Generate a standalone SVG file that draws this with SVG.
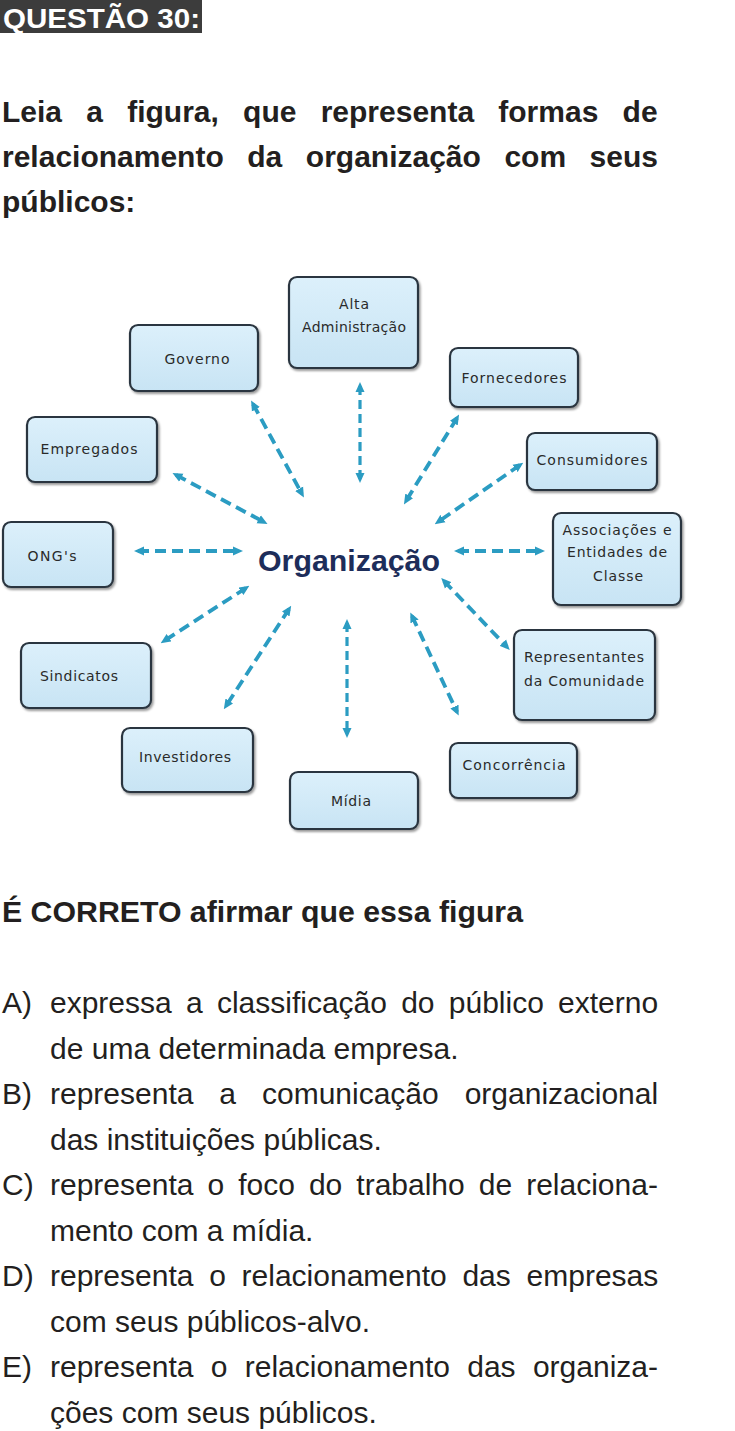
<svg xmlns="http://www.w3.org/2000/svg" width="735" height="1431" viewBox="0 0 735 1431">
<defs>
<style>
.q{font-family:"Liberation Sans",Arial,sans-serif;font-weight:bold;font-size:30px;fill:#231f20}
.a{font-family:"Liberation Sans",Arial,sans-serif;font-size:30px;fill:#231f20}
.box{fill:url(#bf);stroke:#2b3640;stroke-width:2.2;filter:url(#sh)}
.lbl{font-family:"DejaVu Sans",Verdana,sans-serif;font-size:14px;fill:#2a2a2a;text-anchor:middle}
.arr{fill:none;stroke:#2b9cc2;stroke-width:3.8;stroke-dasharray:11 6;marker-start:url(#ah);marker-end:url(#ah)}
.varr{fill:none;stroke:#2b9cc2;stroke-width:3.2;stroke-dasharray:9 5;marker-start:url(#ah);marker-end:url(#ah)}
</style>
<linearGradient id="bf" x1="0" y1="0" x2="0" y2="1">
<stop offset="0" stop-color="#dcf0fb"/>
<stop offset="1" stop-color="#c8e4f4"/>
</linearGradient>
<filter id="sh" x="-10%" y="-10%" width="125%" height="130%">
<feDropShadow dx="1.5" dy="2" stdDeviation="1.2" flood-color="#000" flood-opacity="0.4"/>
</filter>
<marker id="ah" viewBox="0 0 10 10" refX="6" refY="5" markerWidth="10" markerHeight="10" markerUnits="userSpaceOnUse" orient="auto-start-reverse">
<path d="M0,0.5 L10,5 L0,9.5 Z" fill="#2b9cc2"/>
</marker>
</defs>
<rect width="735" height="1431" fill="#ffffff"/>

<g id="header">
<rect x="0" y="0" width="202" height="33" fill="#3c3c3c"/>
<text x="3" y="28" font-family="'Liberation Sans',Arial,sans-serif" font-weight="bold" font-size="28" fill="#ffffff" textLength="197" lengthAdjust="spacingAndGlyphs">QUESTÃO 30:</text>
</g>

<g id="question">
<text class="q" x="2" y="122" style="word-spacing:15.9px">Leia a figura, que representa formas de</text>
<text class="q" x="2" y="167" style="word-spacing:15.2px">relacionamento da organização com seus</text>
<text class="q" x="2" y="212">públicos:</text>
</g>

<g id="connectors">
<line class="varr" x1="360" y1="386" x2="360" y2="479"/>
<line class="arr" x1="253" y1="404" x2="302" y2="494"/>
<line class="arr" x1="457" y1="418" x2="406" y2="501"/>
<line class="arr" x1="520" y1="465" x2="438" y2="522"/>
<line class="arr" x1="176" y1="475" x2="264" y2="522"/>
<line class="arr" x1="138" y1="551" x2="239" y2="551"/>
<line class="arr" x1="458" y1="551" x2="541" y2="551"/>
<line class="arr" x1="246" y1="588" x2="164" y2="641"/>
<line class="arr" x1="289" y1="609" x2="226" y2="706"/>
<line class="varr" x1="347" y1="623" x2="347" y2="734"/>
<line class="arr" x1="412" y1="616" x2="457" y2="712"/>
<line class="arr" x1="444" y1="581" x2="507" y2="647"/>
</g>

<g id="center">
<text x="349" y="571" font-family="'Liberation Sans',Arial,sans-serif" font-weight="bold" font-size="30" fill="#1d2d5a" text-anchor="middle" textLength="182" lengthAdjust="spacingAndGlyphs">Organização</text>
</g>

<g id="alta">
<rect class="box" x="289" y="277" width="129" height="91" rx="8"/>
<text class="lbl" x="354" y="309" textLength="30" lengthAdjust="spacing">Alta</text>
<text class="lbl" x="354" y="332" textLength="104" lengthAdjust="spacing">Administração</text>
</g>

<g id="governo">
<rect class="box" x="130" y="325" width="128" height="66" rx="8"/>
<text class="lbl" x="197" y="364" textLength="65" lengthAdjust="spacing">Governo</text>
</g>

<g id="fornecedores">
<rect class="box" x="450" y="348" width="128" height="59" rx="8"/>
<text class="lbl" x="514" y="383" textLength="105" lengthAdjust="spacing">Fornecedores</text>
</g>

<g id="empregados">
<rect class="box" x="27" y="417" width="130" height="65" rx="8"/>
<text class="lbl" x="89" y="454" textLength="97" lengthAdjust="spacing">Empregados</text>
</g>

<g id="consumidores">
<rect class="box" x="527" y="433" width="130" height="57" rx="8"/>
<text class="lbl" x="592" y="465" textLength="111" lengthAdjust="spacing">Consumidores</text>
</g>

<g id="associacoes">
<rect class="box" x="553" y="513" width="128" height="92" rx="8"/>
<text class="lbl" x="617" y="535" textLength="109" lengthAdjust="spacing">Associações e</text>
<text class="lbl" x="617" y="557" textLength="100" lengthAdjust="spacing">Entidades de</text>
<text class="lbl" x="618" y="581" textLength="50" lengthAdjust="spacing">Classe</text>
</g>

<g id="ongs">
<rect class="box" x="3" y="522" width="110" height="65" rx="8"/>
<text class="lbl" x="52" y="561" textLength="49" lengthAdjust="spacing">ONG's</text>
</g>

<g id="sindicatos">
<rect class="box" x="21" y="643" width="130" height="65" rx="8"/>
<text class="lbl" x="79" y="681" textLength="78" lengthAdjust="spacing">Sindicatos</text>
</g>

<g id="representantes">
<rect class="box" x="514" y="630" width="141" height="90" rx="8"/>
<text class="lbl" x="584" y="662" textLength="120" lengthAdjust="spacing">Representantes</text>
<text class="lbl" x="584" y="686" textLength="120" lengthAdjust="spacing">da Comunidade</text>
</g>

<g id="investidores">
<rect class="box" x="122" y="728" width="131" height="64" rx="8"/>
<text class="lbl" x="185" y="762" textLength="92" lengthAdjust="spacing">Investidores</text>
</g>

<g id="concorrencia">
<rect class="box" x="450" y="743" width="127" height="55" rx="8"/>
<text class="lbl" x="514" y="770" textLength="103" lengthAdjust="spacing">Concorrência</text>
</g>

<g id="midia">
<rect class="box" x="290" y="772" width="128" height="57" rx="8"/>
<text class="lbl" x="351" y="806" textLength="40" lengthAdjust="spacing">Mídia</text>
</g>

<g id="statement">
<text class="q" x="2" y="922" textLength="521" lengthAdjust="spacingAndGlyphs">É CORRETO afirmar que essa figura</text>
</g>

<g id="answers">
<text class="a" x="2" y="1013">A)</text>
<text class="a" x="50" y="1013" style="word-spacing:5.9px">expressa a classificação do público externo</text>
<text class="a" x="50" y="1058.5">de uma determinada empresa.</text>
<text class="a" x="2" y="1104">B)</text>
<text class="a" x="50" y="1104" style="word-spacing:17.6px">representa a comunicação organizacional</text>
<text class="a" x="50" y="1149.5">das instituições públicas.</text>
<text class="a" x="2" y="1195">C)</text>
<text class="a" x="50" y="1195" style="word-spacing:5.7px">representa o foco do trabalho de relaciona-</text>
<text class="a" x="50" y="1240.5">mento com a mídia.</text>
<text class="a" x="2" y="1286">D)</text>
<text class="a" x="50" y="1286" style="word-spacing:7.4px">representa o relacionamento das empresas</text>
<text class="a" x="50" y="1331.5">com seus públicos-alvo.</text>
<text class="a" x="2" y="1377">E)</text>
<text class="a" x="50" y="1377" style="word-spacing:9px">representa o relacionamento das organiza-</text>
<text class="a" x="50" y="1422.5">ções com seus públicos.</text>
</g>
</svg>
